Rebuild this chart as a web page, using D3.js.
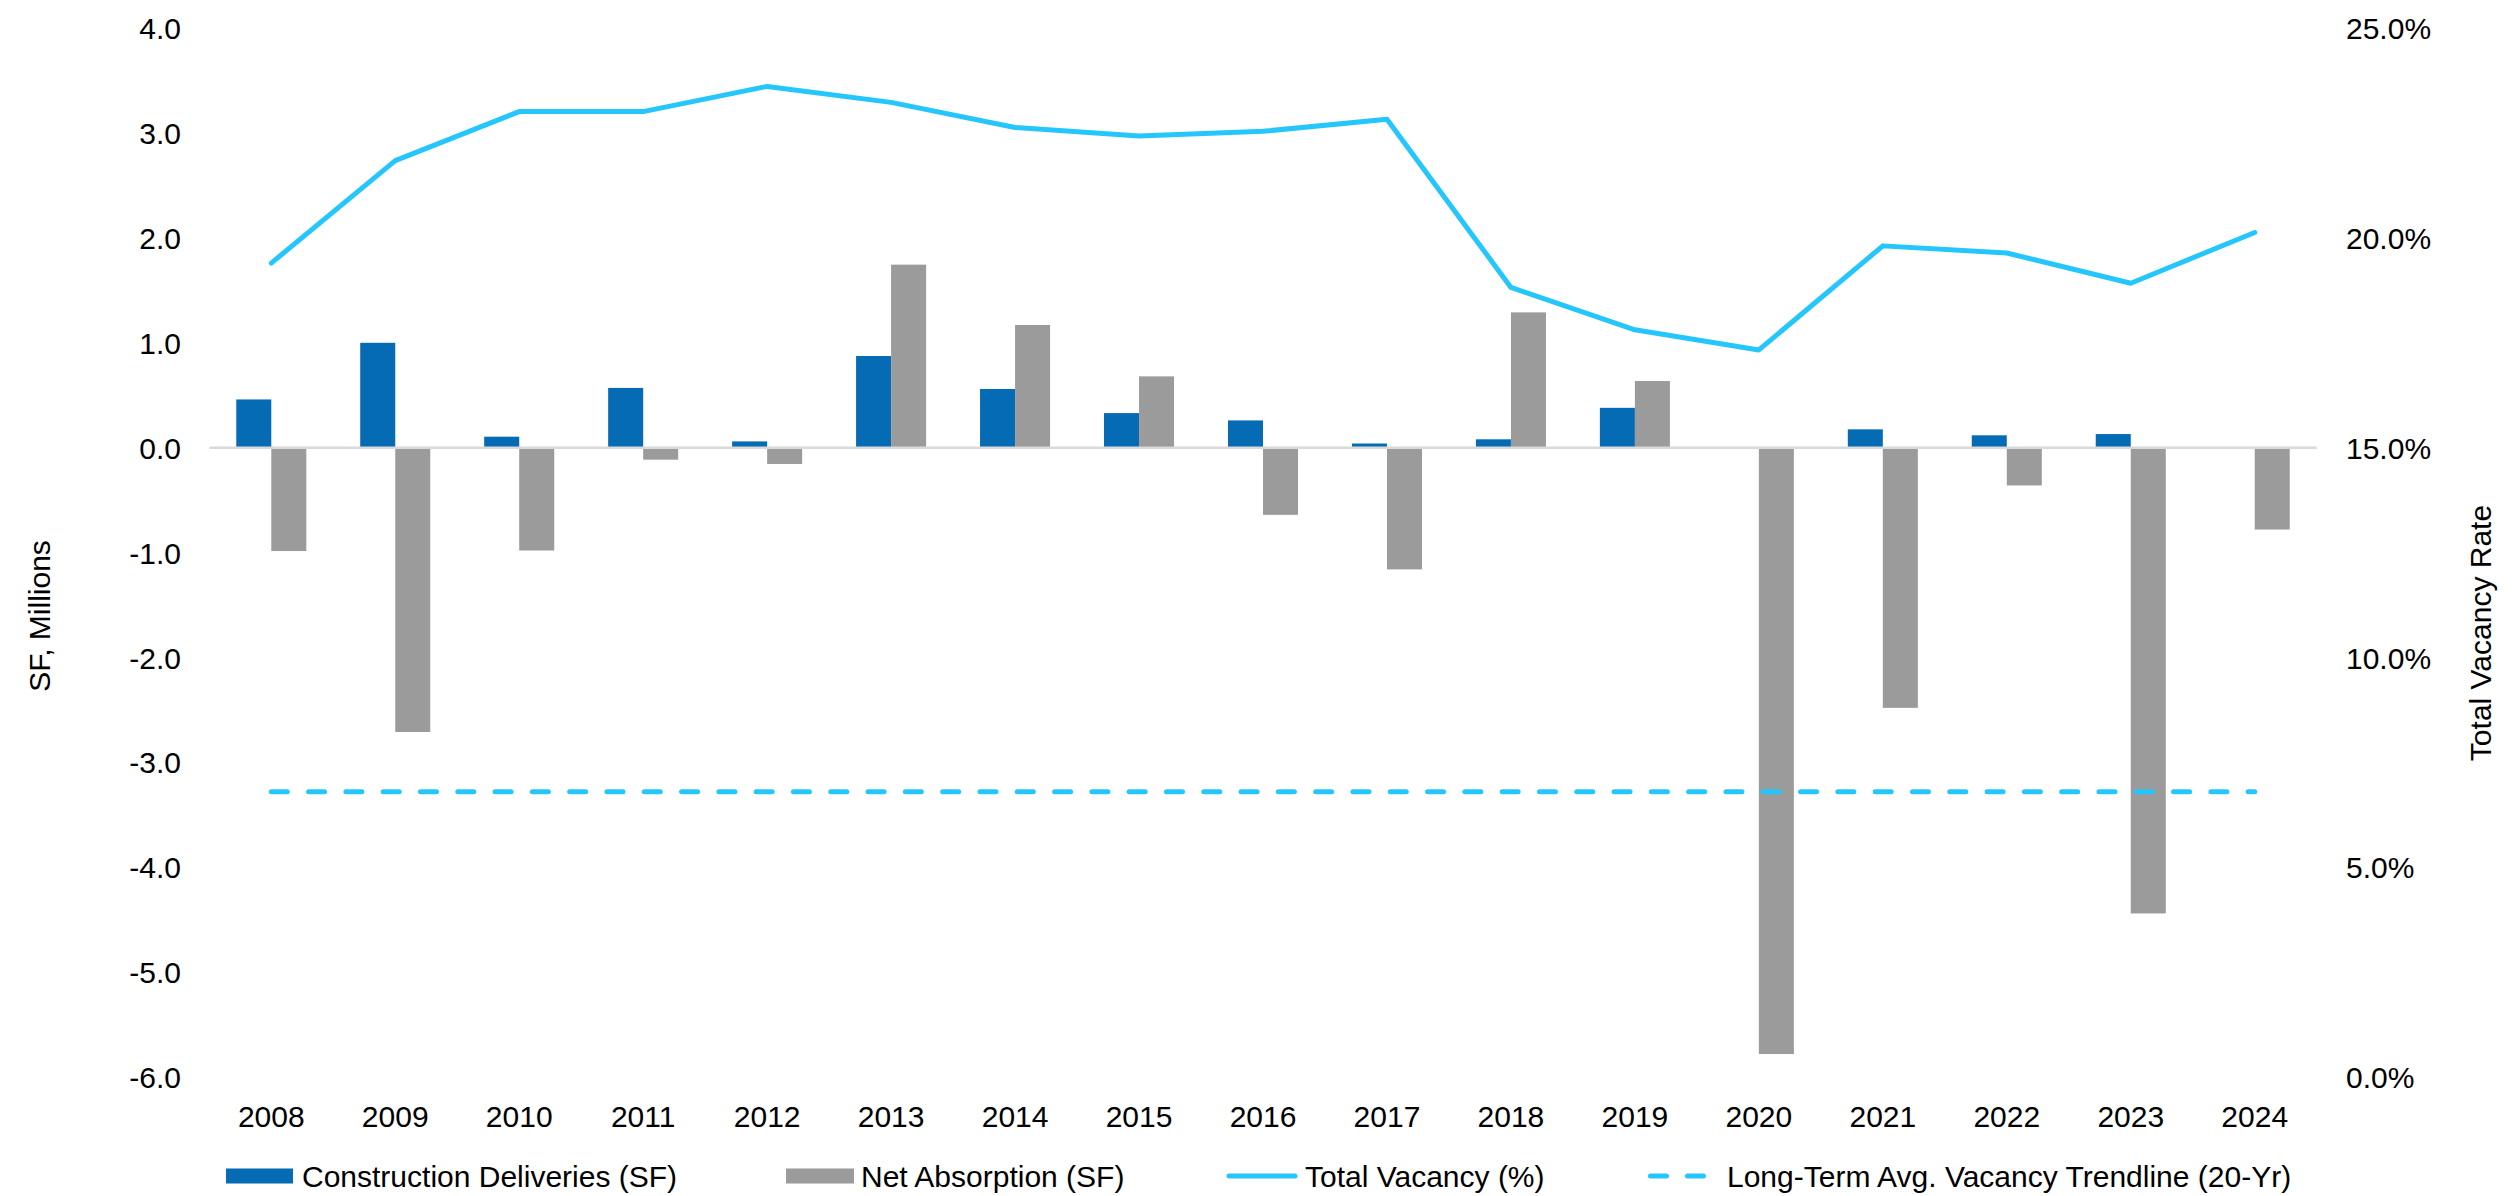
<!DOCTYPE html>
<html>
<head>
<meta charset="utf-8">
<script src="https://cdn.jsdelivr.net/npm/d3@7"></script>
<style>
  html, body { margin: 0; padding: 0; background: #fff; }
  svg { display: block; }
  text { font-family: "Liberation Sans", Arial, sans-serif; fill: #000; }
</style>
</head>
<body>
<svg id="chart" width="2515" height="1196"></svg>
<script>
// ---------- DATA ----------
const years = ["2008","2009","2010","2011","2012","2013","2014","2015","2016","2017","2018","2019","2020","2021","2022","2023","2024"];
const deliveries = [0.46, 1.00, 0.105, 0.57, 0.06, 0.874, 0.56, 0.33, 0.26, 0.04, 0.08, 0.38, 0.0, 0.175, 0.118, 0.13, 0.0];
const absorption = [-0.985, -2.71, -0.98, -0.114, -0.155, 1.745, 1.17, 0.68, -0.64, -1.16, 1.29, 0.636, -5.78, -2.48, -0.36, -4.44, -0.78];
const vacancy = [19.40, 21.84, 23.01, 23.01, 23.61, 23.23, 22.63, 22.43, 22.54, 22.83, 18.82, 17.81, 17.33, 19.81, 19.64, 18.92, 20.13];
const longTermAvg = 6.8;
const leftTicks = [-6, -5, -4, -3, -2, -1, 0, 1, 2, 3, 4];
const leftTickLabels = ["-6.0","-5.0","-4.0","-3.0","-2.0","-1.0","0.0","1.0","2.0","3.0","4.0"];
const rightTicks = [0, 5, 10, 15, 20, 25];
const rightTickLabels = ["0.0%","5.0%","10.0%","15.0%","20.0%","25.0%"];
const seriesNames = ["Construction Deliveries (SF)", "Net Absorption (SF)", "Total Vacancy (%)", "Long-Term Avg. Vacancy Trendline (20-Yr)"];
const leftTitle = "SF, Millions";
const rightTitle = "Total Vacancy Rate";

// ---------- STYLE ----------
const C_BLUE = "#046BB4", C_GRAY = "#9B9B9B", C_LINE = "#25C6FC", C_ZERO = "#D9D9D9";
const FS = 30;

const svg = d3.select("#chart");
svg.append("rect").attr("width", 2515).attr("height", 1196).attr("fill", "#fff");

const plotL = 209.3, plotR = 2316.7, plotT = 28.1, plotB = 1077.1;

const x0 = d3.scaleBand().domain(years).range([plotL, plotR]).paddingInner(0.435).paddingOuter(0.2175);
const x1 = d3.scaleBand().domain(["d","a"]).range([0, x0.bandwidth()]);
const yL = d3.scaleLinear().domain([-6, 4]).range([plotB, plotT]);
const yR = d3.scaleLinear().domain([0, 25]).range([plotB, plotT]);
const cx = d => x0(d) + x0.bandwidth() / 2;

// bars
const g = svg.append("g");
const barData = years.map((yr, i) => [{yr, k: "d", v: deliveries[i]}, {yr, k: "a", v: absorption[i]}]).flat();
g.selectAll("rect.bar").data(barData).join("rect")
  .attr("class", "bar")
  .attr("x", d => x0(d.yr) + x1(d.k))
  .attr("width", x1.bandwidth())
  .attr("y", d => yL(Math.max(0, d.v)))
  .attr("height", d => Math.abs(yL(d.v) - yL(0)))
  .attr("fill", d => d.k === "d" ? C_BLUE : C_GRAY);

// zero line
svg.append("line")
  .attr("x1", plotL).attr("x2", plotR)
  .attr("y1", yL(0)).attr("y2", yL(0))
  .attr("stroke", C_ZERO).attr("stroke-width", 2.5);

// long-term avg dashed
svg.append("path")
  .datum(years)
  .attr("d", d3.line().x(d => cx(d)).y(() => yR(longTermAvg)))
  .attr("fill", "none").attr("stroke", C_LINE).attr("stroke-width", 5)
  .attr("stroke-linecap", "round").attr("stroke-dasharray", "16 21.3");

// vacancy line
svg.append("path")
  .datum(vacancy)
  .attr("d", d3.line().x((d, i) => cx(years[i])).y(d => yR(d)))
  .attr("fill", "none").attr("stroke", C_LINE).attr("stroke-width", 5)
  .attr("stroke-linecap", "round").attr("stroke-linejoin", "round");

// left axis
const axL = d3.axisLeft(yL).tickValues(leftTicks).tickSize(0).tickPadding(0)
  .tickFormat((d, i) => leftTickLabels[i]);
const gL = svg.append("g").attr("transform", "translate(181,0)").call(axL);
gL.select(".domain").remove();
gL.selectAll("text").attr("font-size", FS).attr("font-family", "Liberation Sans, Arial, sans-serif")
  .attr("fill", "#000").attr("dy", "0.35em");

// right axis
const axR = d3.axisRight(yR).tickValues(rightTicks).tickSize(0).tickPadding(0)
  .tickFormat((d, i) => rightTickLabels[i]);
const gR = svg.append("g").attr("transform", "translate(2346,0)").call(axR);
gR.select(".domain").remove();
gR.selectAll("text").attr("font-size", FS).attr("font-family", "Liberation Sans, Arial, sans-serif")
  .attr("fill", "#000").attr("dy", "0.35em");

// x axis labels
const axX = d3.axisBottom(x0).tickSize(0).tickPadding(0);
const gX = svg.append("g").attr("transform", "translate(0,1127)").call(axX);
gX.select(".domain").remove();
gX.selectAll("text").attr("font-size", FS).attr("font-family", "Liberation Sans, Arial, sans-serif")
  .attr("fill", "#000").attr("dy", 0).attr("y", 0);

// axis titles
svg.append("text").attr("transform", "translate(50,616) rotate(-90)")
  .attr("text-anchor", "middle").attr("font-size", FS).text(leftTitle);
svg.append("text").attr("transform", "translate(2491,633) rotate(-90)")
  .attr("text-anchor", "middle").attr("font-size", FS).text(rightTitle);

// legend
const legY = 1176;
const lg = svg.append("g");
lg.append("rect").attr("x", 226).attr("y", legY - 7.5).attr("width", 67).attr("height", 15).attr("fill", C_BLUE);
lg.append("text").attr("x", 302).attr("y", legY).attr("dy", "0.35em").attr("font-size", FS).text(seriesNames[0]);
lg.append("rect").attr("x", 786).attr("y", legY - 7.5).attr("width", 68).attr("height", 15).attr("fill", C_GRAY);
lg.append("text").attr("x", 861).attr("y", legY).attr("dy", "0.35em").attr("font-size", FS).text(seriesNames[1]);
lg.append("line").attr("x1", 1229).attr("x2", 1295).attr("y1", legY).attr("y2", legY)
  .attr("stroke", C_LINE).attr("stroke-width", 5).attr("stroke-linecap", "round");
lg.append("text").attr("x", 1305).attr("y", legY).attr("dy", "0.35em").attr("font-size", FS).text(seriesNames[2]);
lg.append("line").attr("x1", 1650.5).attr("x2", 1704).attr("y1", legY).attr("y2", legY)
  .attr("stroke", C_LINE).attr("stroke-width", 5).attr("stroke-linecap", "round").attr("stroke-dasharray", "16 21");
lg.append("text").attr("x", 1727).attr("y", legY).attr("dy", "0.35em").attr("font-size", FS).text(seriesNames[3]);
</script>
</body>
</html>
